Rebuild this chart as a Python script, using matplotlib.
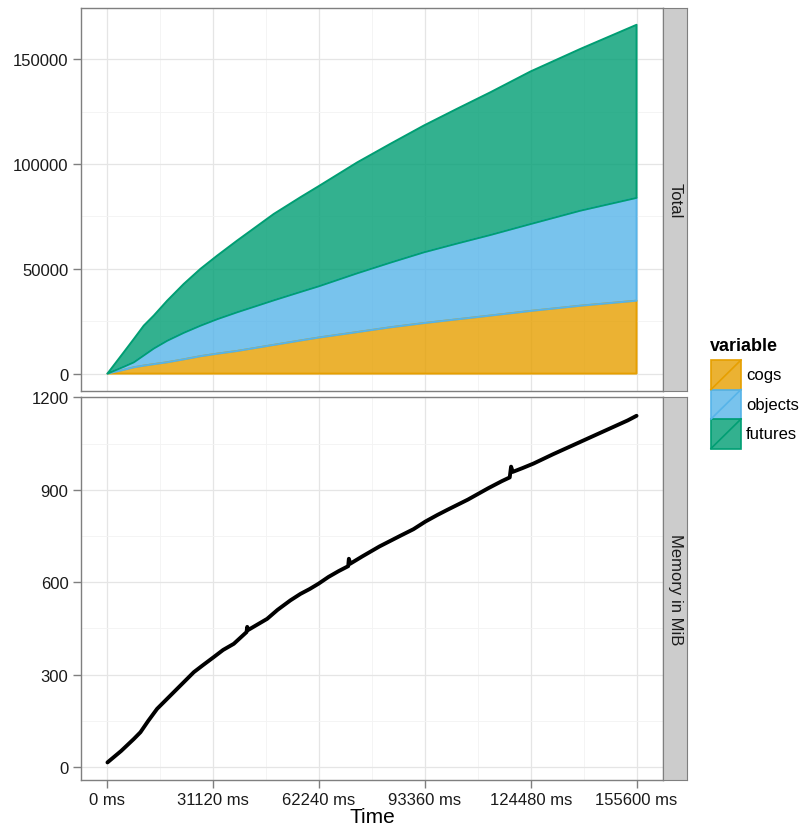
import matplotlib.pyplot as plt
from matplotlib.patches import Rectangle
from matplotlib.lines import Line2D

plt.rcParams['font.family'] = ['Liberation Sans', 'DejaVu Sans']

# object counts over time (stacked)
time_ms = [0, 4800, 7740, 10680, 13620, 17560, 22440, 27350, 32260, 38140, 48910, 56760,
           62150, 73430, 83230, 93030, 102800, 112640, 124400, 139100, 155600]
cogs = [0, 1800, 3000, 3800, 4500, 5400, 6800, 8300, 9500, 10800, 13700, 15800, 17200,
        19800, 22100, 24100, 25900, 27700, 29900, 32400, 34800]
objects = [0, 1500, 2400, 4900, 7500, 10300, 12700, 14600, 16500, 18500, 21300, 23200,
           24500, 28100, 30900, 33800, 36200, 38500, 41500, 45400, 49100]
futures = [0, 6900, 11100, 14200, 15700, 19100, 23300, 27100, 30300, 34200, 41200, 45200,
           47800, 52900, 56700, 60500, 64300, 68100, 72800, 77200, 82600]
variables = ['cogs', 'objects', 'futures']
colors = ['#E69F00', '#56B4E9', '#009E73']

# memory usage
mem_time = [0, 4000, 7740, 9700, 12000, 14600, 19500, 25400, 28000, 31270, 34000, 37150,
            40900, 41100, 41400, 46960, 50000, 53800, 56760, 59500, 62070, 65000, 68000,
            70800, 71000, 71400, 75000, 80000, 86200, 90000, 93540, 97000, 100000, 106000,
            112000, 116000, 118300, 118700, 119200, 122000, 125300, 131000, 137000, 143000,
            149000, 153000, 155600]
mem_mib = [15, 52, 91, 113, 150, 189, 243, 308, 330, 357, 380, 400, 438, 455, 445, 481,
           510, 541, 562, 578, 595, 617, 636, 652, 676, 660, 684, 716, 751, 772, 797, 818,
           835, 868, 905, 928, 940, 975, 958, 970, 985, 1015, 1045, 1075, 1105, 1125, 1140]

xticks = [0, 31120, 62240, 93360, 124480, 155600]

W, H = 799, 828
fig = plt.figure(figsize=(W / 100, H / 100), dpi=100)


def px(left, top, right, bottom):
    return [left / W, 1 - bottom / H, (right - left) / W, (bottom - top) / H]


def style(ax):
    ax.set_facecolor('white')
    for s in ax.spines.values():
        s.set_color('#7F7F7F')
        s.set_linewidth(1.0)
    ax.set_axisbelow(True)
    ax.grid(which='major', color='#E5E5E5', lw=0.9)
    ax.grid(which='minor', color='#F3F3F3', lw=0.6)
    ax.tick_params(which='major', length=6, width=1, color='#7F7F7F',
                   labelsize=12, labelcolor='#1a1a1a', pad=3)
    ax.tick_params(which='minor', length=0)
    ax.set_xticks(xticks)
    ax.set_xticks([t + 15560 for t in xticks[:-1]], minor=True)
    ax.set_xlim(-7780, 163380)


def strip(top, bottom, label):
    sa = fig.add_axes(px(663, top, 687, bottom))
    sa.set_facecolor('#CCCCCC')
    for s in sa.spines.values():
        s.set_color('#7F7F7F')
    sa.set_xticks([])
    sa.set_yticks([])
    sa.text(0.5, 0.5, label, rotation=-90, ha='center', va='center', fontsize=12,
            transform=sa.transAxes, color='#1a1a1a')


# top panel: stacked areas
ax1 = fig.add_axes(px(81, 9, 663, 392))
style(ax1)
base = [0] * len(time_ms)
for vals, c in zip([cogs, objects, futures], colors):
    top = [b + v for b, v in zip(base, vals)]
    ax1.fill_between(time_ms, base, top, facecolor=c, alpha=0.8, edgecolor='none', zorder=2)
    ax1.fill_between(time_ms, base, top, facecolor='none', edgecolor=c, lw=1.4, zorder=3)
    base = top
ax1.set_ylim(-8310, 174510)
ax1.set_yticks([0, 50000, 100000, 150000])
ax1.set_yticks([25000, 75000, 125000], minor=True)
ax1.tick_params(axis='x', which='both', length=0, labelbottom=False)
strip(9, 392, 'Total')

# bottom panel: memory
ax2 = fig.add_axes(px(81, 398, 663, 781))
style(ax2)
ax2.plot(mem_time, mem_mib, color='black', lw=2.8, solid_capstyle='round',
         solid_joinstyle='round', zorder=3)
ax2.set_ylim(-42, 1201)
ax2.set_yticks([0, 300, 600, 900, 1200])
ax2.set_yticks([150, 450, 750, 1050], minor=True)
ax2.set_xticklabels(['%d ms' % t for t in xticks])
ax2.set_xlabel('Time', fontsize=15, labelpad=0)
strip(398, 781, 'Memory in MiB')

# legend
lg = fig.add_axes(px(700, 330, 799, 460))
lg.set_xlim(700, 799)
lg.set_ylim(460, 330)
lg.axis('off')
lg.text(710, 347, 'variable', fontsize=13, fontweight='bold', va='center', ha='left')
for i, (name, c) in enumerate(zip(variables, colors)):
    y0 = 361 + i * 29.5
    lg.add_patch(Rectangle((711, y0), 30, 29.5, facecolor=c, alpha=0.8, edgecolor='none'))
    lg.add_patch(Rectangle((711, y0), 30, 29.5, facecolor='none', edgecolor=c, lw=1.2))
    lg.add_line(Line2D([711, 741], [y0 + 29.5, y0], color=c, lw=1.2))
    lg.text(746, y0 + 15, name, fontsize=12, va='center', ha='left')

fig.savefig('out.png', dpi=100)
